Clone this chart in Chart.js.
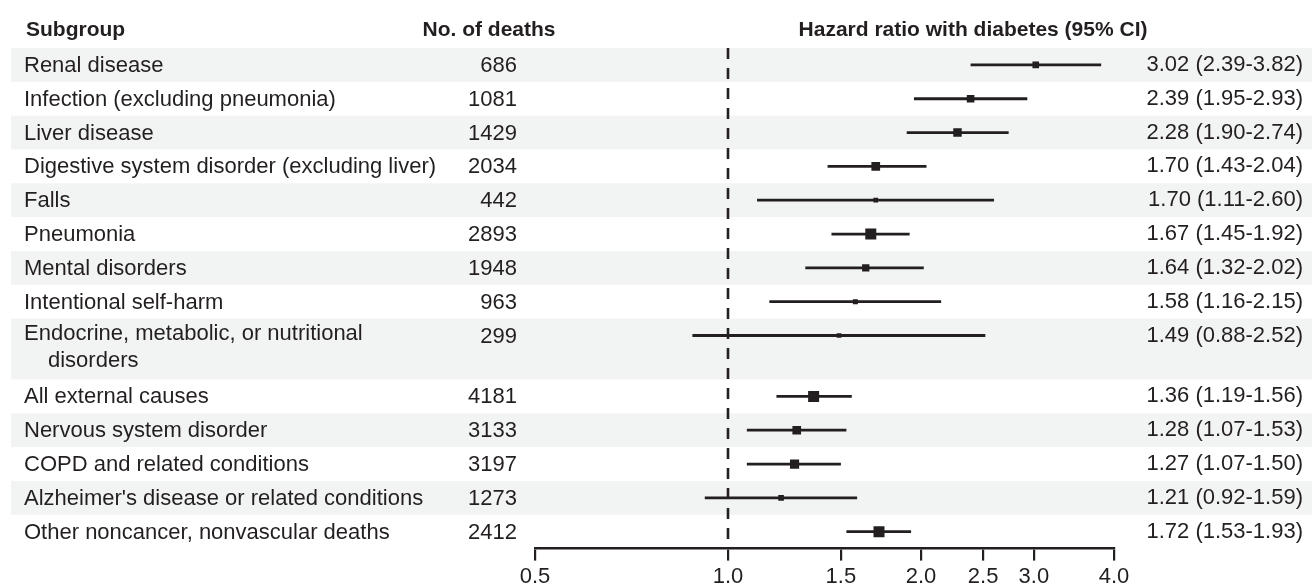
<!DOCTYPE html>
<html>
<head>
<meta charset="utf-8">
<script src="https://cdn.jsdelivr.net/npm/chart.js@4/dist/chart.umd.min.js"></script>
<style>
  html, body { margin: 0; padding: 0; background: #ffffff; }
  #wrap { width: 1312px; height: 586px; }
</style>
</head>
<body>
<div id="wrap"><canvas id="grafico" width="1312" height="586"></canvas></div>
<script>
// datos
var subgroups = [
  'Renal disease',
  'Infection (excluding pneumonia)',
  'Liver disease',
  'Digestive system disorder (excluding liver)',
  'Falls',
  'Pneumonia',
  'Mental disorders',
  'Intentional self-harm',
  'Endocrine, metabolic, or nutritional\ndisorders',
  'All external causes',
  'Nervous system disorder',
  'COPD and related conditions',
  "Alzheimer's disease or related conditions",
  'Other noncancer, nonvascular deaths'
];
var deaths = [686, 1081, 1429, 2034, 442, 2893, 1948, 963, 299, 4181, 3133, 3197, 1273, 2412];
var hazard = [3.02, 2.39, 2.28, 1.70, 1.70, 1.67, 1.64, 1.58, 1.49, 1.36, 1.28, 1.27, 1.21, 1.72];
var ciLow  = [2.39, 1.95, 1.90, 1.43, 1.11, 1.45, 1.32, 1.16, 0.88, 1.19, 1.07, 1.07, 0.92, 1.53];
var ciHigh = [3.82, 2.93, 2.74, 2.04, 2.60, 1.92, 2.02, 2.15, 2.52, 1.56, 1.53, 1.50, 1.59, 1.93];
var xTicks = [0.5, 1.0, 1.5, 2.0, 2.5, 3.0, 4.0];
var headers = ['Subgroup', 'No. of deaths', 'Hazard ratio with diabetes (95% CI)'];

var ink = '#231f20';
var stripe = '#f2f4f3';
var fam = "'Liberation Sans', Arial, Helvetica, sans-serif";

// filas: la de dos lineas ocupa 1.8 filas
var rows = [];
var acum = 0;
subgroups.forEach(function (s) {
  var lines = s.split('\n');
  var h = lines.length > 1 ? 1.8 : 1;
  rows.push({ top: acum, bottom: acum + h, center: acum + 0.5, lines: lines });
  acum += h;
});
var yMax = acum;

// tamaño del cuadrado segun el ancho del IC
function markerSide(i) {
  var w = Math.log(ciHigh[i] / ciLow[i]);
  return Math.max(4.7, Math.min(11, 3.1 / w));
}

var datasets = [];
// lineas de IC
subgroups.forEach(function (s, i) {
  datasets.push({
    type: 'scatter',
    data: [{ x: ciLow[i], y: rows[i].center }, { x: ciHigh[i], y: rows[i].center }],
    showLine: true,
    borderColor: ink,
    borderWidth: 2.8,
    pointRadius: 0
  });
});
// linea de referencia HR = 1
datasets.push({
  type: 'scatter',
  data: [{ x: 1, y: 0 }, { x: 1, y: yMax }],
  showLine: true,
  borderColor: ink,
  borderWidth: 2.6,
  borderDash: [11, 9],
  pointRadius: 0
});
// estimaciones puntuales
datasets.push({
  type: 'scatter',
  data: hazard.map(function (v, i) { return { x: v, y: rows[i].center }; }),
  pointStyle: 'rect',
  pointRadius: hazard.map(function (v, i) { return markerSide(i) / Math.SQRT2; }),
  pointBackgroundColor: ink,
  pointBorderWidth: 0
});

var stripesPlugin = {
  id: 'stripes',
  beforeDraw: function (chart) {
    var ctx = chart.ctx;
    var y = chart.scales.y;
    ctx.save();
    ctx.fillStyle = '#ffffff';
    ctx.fillRect(0, 0, chart.width, chart.height);
    ctx.fillStyle = stripe;
    rows.forEach(function (r, i) {
      if (i % 2 === 0) {
        var y0 = y.getPixelForValue(r.top);
        var y1 = y.getPixelForValue(r.bottom);
        ctx.fillRect(11, y0, chart.width - 11, y1 - y0);
      }
    });
    ctx.restore();
  }
};

var textPlugin = {
  id: 'forestText',
  afterDraw: function (chart) {
    var ctx = chart.ctx;
    var y = chart.scales.y;
    ctx.save();
    ctx.fillStyle = ink;
    ctx.textBaseline = 'middle';
    // encabezados
    ctx.font = 'bold 21px ' + fam;
    ctx.textAlign = 'left';
    ctx.fillText(headers[0], 26, 30);
    ctx.textAlign = 'center';
    ctx.fillText(headers[1], 489, 30);
    ctx.fillText(headers[2], 973, 30);
    // filas
    ctx.font = '22px ' + fam;
    rows.forEach(function (r, i) {
      var yc = y.getPixelForValue(r.center) + 1;
      ctx.textAlign = 'left';
      r.lines.forEach(function (t, k) {
        ctx.fillText(t, k === 0 ? 24 : 48, yc - (r.lines.length > 1 ? 3 : 0) + k * 27);
      });
      ctx.textAlign = 'right';
      ctx.fillText(String(deaths[i]), 517, yc);
      var txt = hazard[i].toFixed(2) + ' (' + ciLow[i].toFixed(2) + '-' + ciHigh[i].toFixed(2) + ')';
      ctx.fillText(txt, 1303, yc - 1);
    });
    ctx.restore();
  }
};

Chart.defaults.font.family = fam;
Chart.defaults.color = ink;

new Chart(document.getElementById('grafico').getContext('2d'), {
  type: 'scatter',
  data: { datasets: datasets },
  options: {
    responsive: false,
    animation: false,
    layout: { padding: { left: 535, right: 198, top: 48, bottom: -7 } },
    plugins: { legend: { display: false }, tooltip: { enabled: false } },
    scales: {
      x: {
        type: 'logarithmic',
        min: 0.5,
        max: 4,
        afterBuildTicks: function (axis) {
          axis.ticks = xTicks.map(function (v) { return { value: v }; });
        },
        ticks: {
          autoSkip: false,
          maxRotation: 0,
          padding: 3,
          color: ink,
          font: { size: 22 },
          callback: function (v) { return Number(v).toFixed(1); }
        },
        grid: { drawOnChartArea: false, drawTicks: true, tickLength: 12, color: ink, lineWidth: 2.2 },
        border: { display: true, color: ink, width: 2.6 }
      },
      y: {
        type: 'linear',
        min: 0,
        max: yMax,
        reverse: true,
        display: false
      }
    }
  },
  plugins: [stripesPlugin, textPlugin]
});
</script>
</body>
</html>
